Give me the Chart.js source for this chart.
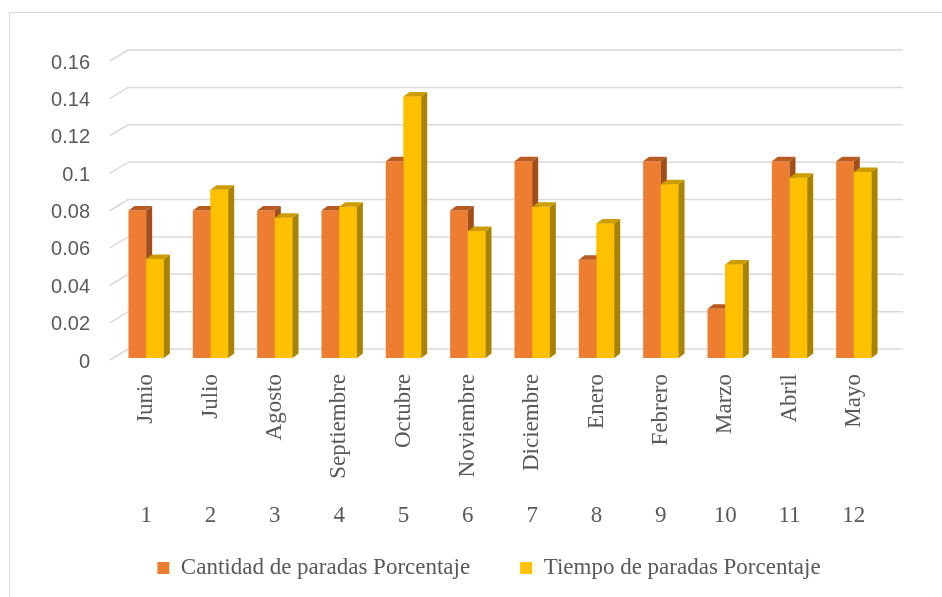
<!DOCTYPE html>
<html>
<head>
<meta charset="utf-8">
<script src="https://cdn.jsdelivr.net/npm/chart.js@4/dist/chart.umd.min.js"></script>
<style>
  html, body { margin: 0; padding: 0; background: #fff; overflow: hidden; }
  #frame { position: absolute; left: 9px; top: 12px; width: 1000px; height: 1000px;
           border-left: 1px solid #d9d9d9; border-top: 1px solid #d9d9d9; }
  #wrap { position: absolute; left: 0; top: 0; width: 942px; height: 597px; }
</style>
</head>
<body>
<div id="frame"></div>
<div id="wrap"><canvas id="chart" width="942" height="597"></canvas></div>
<script>
// Data
const months = ['Junio', 'Julio', 'Agosto', 'Septiembre', 'Octubre', 'Noviembre',
                'Diciembre', 'Enero', 'Febrero', 'Marzo', 'Abril', 'Mayo'];
const monthNumbers = ['1', '2', '3', '4', '5', '6', '7', '8', '9', '10', '11', '12'];
const cantidad = [0.0789, 0.0789, 0.0789, 0.0789, 0.1053, 0.0789, 0.1053, 0.0526, 0.1053, 0.0263, 0.1053, 0.1053];
const tiempo = [0.053, 0.090, 0.075, 0.081, 0.140, 0.068, 0.081, 0.072, 0.093, 0.050, 0.0965, 0.0995];
const yTicks = [0, 0.02, 0.04, 0.06, 0.08, 0.1, 0.12, 0.14, 0.16];

const textGrey = '#595959';
const serif = "'Liberation Serif', 'Times New Roman', serif";

// side / top colours for the fake 3D look
const faces = {
    '#ED7D31': { side: '#A14E1B', top: '#B95A20' },
    '#FFC000': { side: '#A88300', top: '#CC9C00' }
};
const depthX = 6, depthY = -4.5;

// labels may sit outside their axis box, so no clipping
const noClip = s => { s._computeLabelArea = () => null; };

// back-wall gridlines with the little slanted floor edge
const wallGrid = {
    id: 'wallGrid',
    beforeDatasetsDraw(chart) {
        const { ctx, chartArea, scales: { y } } = chart;
        ctx.save();
        ctx.strokeStyle = '#d9d9d9';
        ctx.lineWidth = 1.5;
        yTicks.forEach(v => {
            const yf = y.getPixelForValue(v) + 2;
            ctx.beginPath();
            ctx.moveTo(chartArea.left - 4, yf);
            ctx.lineTo(chartArea.left + 14, yf - 11);
            ctx.lineTo(chartArea.right + 17, yf - 11);
            ctx.stroke();
        });
        ctx.restore();
    }
};

function drawFaces(ctx, meta, f) {
    meta.data.forEach(el => {
        const { x, y, base, width } = el.getProps(['x', 'y', 'base', 'width'], true);
        const l = x - width / 2, r = x + width / 2;
        ctx.fillStyle = f.side;
        ctx.beginPath();
        ctx.moveTo(r, y);
        ctx.lineTo(r + depthX, y + depthY);
        ctx.lineTo(r + depthX, base + depthY);
        ctx.lineTo(r, base);
        ctx.closePath();
        ctx.fill();
        ctx.fillStyle = f.top;
        ctx.beginPath();
        ctx.moveTo(l, y);
        ctx.lineTo(l + depthX, y + depthY);
        ctx.lineTo(r + depthX, y + depthY);
        ctx.lineTo(r, y);
        ctx.closePath();
        ctx.fill();
    });
}

// orange depth first, then yellow fronts redrawn over it, then yellow depth
const bar3d = {
    id: 'bar3d',
    afterDatasetsDraw(chart) {
        const ctx = chart.ctx;
        const m0 = chart.getDatasetMeta(0), m1 = chart.getDatasetMeta(1);
        ctx.save();
        drawFaces(ctx, m0, faces[chart.data.datasets[0].backgroundColor]);
        m1.data.forEach(el => el.draw(ctx, chart.chartArea));
        drawFaces(ctx, m1, faces[chart.data.datasets[1].backgroundColor]);
        ctx.restore();
    }
};

new Chart(document.getElementById('chart'), {
    type: 'bar',
    data: {
        labels: months,
        datasets: [
            { label: 'Cantidad de paradas Porcentaje', data: cantidad, backgroundColor: '#ED7D31',
              borderWidth: 0, xAxisID: 'x' },
            { label: 'Tiempo de paradas Porcentaje', data: tiempo, backgroundColor: '#FFC000',
              borderWidth: 0, xAxisID: 'x' }
        ]
    },
    options: {
        responsive: false,
        animation: false,
        layout: { padding: { top: 59, left: 92, right: 56, bottom: 7.5 } },
        datasets: { bar: { categoryPercentage: 0.55, barPercentage: 1 } },
        scales: {
            y: {
                min: 0, max: 0.16,
                afterFit: s => { s.width = 22; noClip(s); },
                grid: { display: false },
                border: { display: false },
                ticks: {
                    stepSize: 0.02,
                    padding: 16,
                    labelOffset: 4,
                    color: textGrey,
                    font: { family: "'Liberation Sans', Arial, sans-serif", size: 20 },
                    callback: v => String(+v.toFixed(2))
                }
            },
            x: {
                weight: 0,
                afterFit: s => { s.height = 130; noClip(s); },
                grid: { display: false },
                border: { display: false },
                ticks: {
                    autoSkip: false, minRotation: 90, maxRotation: 90, padding: 8,
                    color: textGrey, font: { family: serif, size: 23 }
                }
            },
            x2: {
                type: 'category',
                labels: monthNumbers,
                position: 'bottom',
                offset: true,
                weight: 1,
                afterFit: s => { s.height = 18.5; noClip(s); },
                grid: { display: false },
                border: { display: false },
                ticks: { autoSkip: false, maxRotation: 0, padding: 6, color: textGrey,
                         font: { family: serif, size: 23 } }
            }
        },
        plugins: {
            tooltip: { enabled: false },
            legend: {
                position: 'bottom',
                labels: {
                    boxWidth: 12, boxHeight: 12, padding: 50,
                    color: textGrey, font: { family: serif, size: 23 }
                }
            }
        }
    },
    plugins: [wallGrid, bar3d]
});
</script>
</body>
</html>
